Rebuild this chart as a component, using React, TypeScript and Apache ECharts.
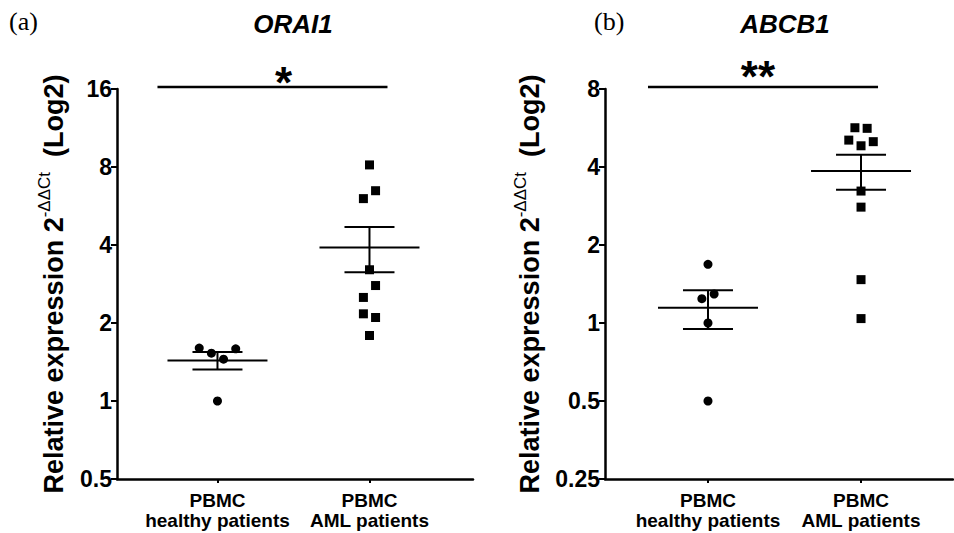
import React, { useEffect, useRef } from "react";
import * as echarts from "echarts";

// ---- Data ----
const groupLabels = ["PBMC\nhealthy patients", "PBMC\nAML patients"];

const orai1Healthy = [1.6, 1.53, 1.59, 1.45, 1.0];
const orai1HealthyJitter = [-0.12, -0.04, 0.12, 0.04, 0];
const orai1Aml = [8.15, 6.48, 6.04, 3.21, 2.79, 2.51, 2.17, 2.1, 1.79];
const orai1AmlJitter = [0, 0.04, -0.04, 0, 0.04, -0.04, -0.04, 0.04, 0];

const abcb1Healthy = [1.685, 1.294, 1.241, 1.0, 0.5];
const abcb1HealthyJitter = [0, 0.04, -0.04, 0, 0];
const abcb1Aml = [5.67, 5.64, 5.08, 5.01, 4.83, 3.23, 2.8, 1.47, 1.04];
const abcb1AmlJitter = [-0.04, 0.04, -0.08, 0.08, 0, 0, 0, 0, 0];

const orai1Ticks = [0.5, 1, 2, 4, 8, 16];
const abcb1Ticks = [0.25, 0.5, 1, 2, 4, 8];

const FONT = "'Liberation Sans', Arial, Helvetica, sans-serif";

function stats(arr: number[]) {
  const n = arr.length;
  const mean = arr.reduce((a, b) => a + b, 0) / n;
  const v = arr.reduce((a, b) => a + (b - mean) * (b - mean), 0) / (n - 1);
  return { mean, sem: Math.sqrt(v) / Math.sqrt(n) };
}

function pts(vals: number[], jit: number[], g: number) {
  return vals.map((v, i) => [g + jit[i], v]);
}

function renderMeanSem(params: any, api: any) {
  const x = api.value(0);
  const m = api.value(1);
  const s = api.value(2);
  const c = api.coord([x, m]);
  const hi = api.coord([x, m + s]);
  const lo = api.coord([x, m - s]);
  const st = { stroke: "#000", lineWidth: 2 };
  return {
    type: "group",
    children: [
      { type: "line", shape: { x1: c[0] - 50, y1: c[1], x2: c[0] + 50, y2: c[1] }, style: st },
      { type: "line", shape: { x1: c[0], y1: hi[1], x2: c[0], y2: lo[1] }, style: st },
      { type: "line", shape: { x1: c[0] - 25, y1: hi[1], x2: c[0] + 25, y2: hi[1] }, style: st },
      { type: "line", shape: { x1: c[0] - 25, y1: lo[1], x2: c[0] + 25, y2: lo[1] }, style: st },
    ],
  };
}

function xAxisCfg(gridIndex: number, min: number, max: number) {
  return {
    gridIndex,
    type: "value",
    min,
    max,
    splitLine: { show: false },
    axisLine: { show: true, onZero: false, lineStyle: { color: "#000", width: 2.5 } },
    axisTick: { show: true, customValues: [0, 1], length: 4, lineStyle: { color: "#000", width: 2 } },
    axisLabel: {
      customValues: [0, 1],
      formatter: (v: number) => groupLabels[Math.round(v)],
      margin: 11,
      fontSize: 19,
      fontWeight: "bold",
      fontFamily: FONT,
      color: "#000",
      lineHeight: 20,
    },
  };
}

function yAxisCfg(gridIndex: number, min: number, max: number, nameGap: number) {
  return {
    gridIndex,
    type: "log",
    logBase: 2,
    min,
    max,
    interval: 1,
    splitLine: { show: false },
    axisLine: { show: true, onZero: false, lineStyle: { color: "#000", width: 2.5 } },
    axisTick: { show: true, length: 6, lineStyle: { color: "#000", width: 2 } },
    axisLabel: {
      margin: 5,
      fontSize: 23,
      fontWeight: "bold",
      fontFamily: FONT,
      color: "#000",
      formatter: (v: number) => String(Math.round(v * 100) / 100),
    },
    name: "{a|Relative expression 2}{s|-ΔΔCt}{a|  (Log2)}",
    nameLocation: "middle",
    nameRotate: 90,
    nameGap,
    nameTextStyle: {
      rich: {
        a: { fontSize: 27, fontWeight: "bold", fontFamily: FONT, color: "#000", lineHeight: 31, verticalAlign: "bottom" },
        s: { fontSize: 17, fontFamily: FONT, color: "#000", lineHeight: 31, verticalAlign: "top" },
      },
    },
  };
}

export default function App() {
  const ref = useRef<HTMLDivElement>(null);
  useEffect(() => {
    document.body.style.margin = "0";
    if (!ref.current) return;
    const chart = echarts.init(ref.current, null, { renderer: "svg" });
    const oH = stats(orai1Healthy);
    const oA = stats(orai1Aml);
    const aH = stats(abcb1Healthy);
    const aA = stats(abcb1Aml);
    const scatterBase = {
      type: "scatter",
      itemStyle: { color: "#000", opacity: 1 },
      symbolSize: 9,
      silent: true,
      z: 3,
    };
    chart.setOption({
      animation: false,
      backgroundColor: "#fff",
      grid: [
        { left: 117, top: 89, width: 356, height: 390 },
        { left: 605, top: 89, width: 348, height: 390 },
      ],
      xAxis: [xAxisCfg(0, -0.661, 1.681), xAxisCfg(1, -0.673, 1.601)],
      yAxis: [
        yAxisCfg(0, Math.min(...orai1Ticks), Math.max(...orai1Ticks), 50),
        yAxisCfg(1, Math.min(...abcb1Ticks), Math.max(...abcb1Ticks), 62),
      ],
      series: [
        { ...scatterBase, xAxisIndex: 0, yAxisIndex: 0, symbol: "circle", data: pts(orai1Healthy, orai1HealthyJitter, 0) },
        { ...scatterBase, xAxisIndex: 0, yAxisIndex: 0, symbol: "rect", data: pts(orai1Aml, orai1AmlJitter, 1) },
        { ...scatterBase, xAxisIndex: 1, yAxisIndex: 1, symbol: "circle", data: pts(abcb1Healthy, abcb1HealthyJitter, 0) },
        { ...scatterBase, xAxisIndex: 1, yAxisIndex: 1, symbol: "rect", data: pts(abcb1Aml, abcb1AmlJitter, 1) },
        {
          type: "custom", xAxisIndex: 0, yAxisIndex: 0, renderItem: renderMeanSem, encode: { x: 0, y: 1 }, silent: true,
          data: [[0, oH.mean, oH.sem], [1, oA.mean, oA.sem]],
        },
        {
          type: "custom", xAxisIndex: 1, yAxisIndex: 1, renderItem: renderMeanSem, encode: { x: 0, y: 1 }, silent: true,
          data: [[0, aH.mean, aH.sem], [1, aA.mean, aA.sem]],
        },
      ],
    });

    // annotations positioned from the axes
    const a0 = chart.convertToPixel({ gridIndex: 0 }, [0, 16]) as number[];
    const a1 = chart.convertToPixel({ gridIndex: 0 }, [1, 16]) as number[];
    const b0 = chart.convertToPixel({ gridIndex: 1 }, [0, 8]) as number[];
    const b1 = chart.convertToPixel({ gridIndex: 1 }, [1, 8]) as number[];
    const lineSt = { stroke: "#000", lineWidth: 2.5 };
    const starSt = { fill: "#000", font: `bold 44px ${FONT}`, textAlign: "center", textVerticalAlign: "middle" };
    const letterFont = "26px 'Liberation Serif', 'Times New Roman', serif";
    chart.setOption({
      graphic: [
        { type: "text", left: 9, top: 8, style: { text: "(a)", fill: "#000", font: letterFont } },
        { type: "text", left: 594, top: 8, style: { text: "(b)", fill: "#000", font: letterFont } },
        { type: "text", x: 293, y: 24, style: { text: "ORAI1", fill: "#000", font: `italic bold 26px ${FONT}`, textAlign: "center", textVerticalAlign: "middle" } },
        { type: "text", x: 785, y: 24, style: { text: "ABCB1", fill: "#000", font: `italic bold 26px ${FONT}`, textAlign: "center", textVerticalAlign: "middle" } },
        { type: "line", shape: { x1: a0[0] - 60, y1: a0[1] - 2, x2: a1[0] + 18, y2: a1[1] - 2 }, style: lineSt },
        { type: "line", shape: { x1: b0[0] - 60, y1: b0[1] - 2, x2: b1[0] + 17, y2: b1[1] - 2 }, style: lineSt },
        { type: "text", x: a0[0] + 66, y: a0[1] - 7, style: { ...starSt, text: "*" } },
        { type: "text", x: b0[0] + 50, y: b0[1] - 13, style: { ...starSt, text: "**" } },
      ],
    });
    return () => chart.dispose();
  }, []);
  return <div ref={ref} style={{ width: 954, height: 533 }} />;
}
